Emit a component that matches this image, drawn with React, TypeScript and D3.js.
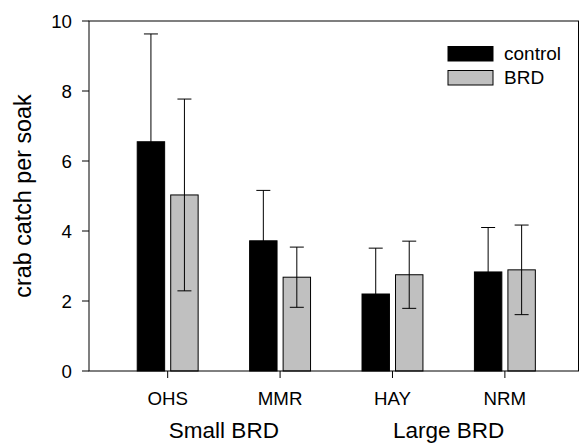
import React from "react";
import * as d3 from "d3";

const categories = ["OHS", "MMR", "HAY", "NRM"];
const controlValues = [6.55, 3.72, 2.2, 2.83];
const controlErrors = [3.08, 1.44, 1.31, 1.27];
const brdValues = [5.03, 2.68, 2.75, 2.89];
const brdErrors = [2.74, 0.86, 0.96, 1.28];
const yTicks = [0, 2, 4, 6, 8, 10];
const groupLabels = ["Small BRD", "Large BRD"];
const seriesNames = ["control", "BRD"];
const seriesColors = ["#000000", "#c0c0c0"];

const W = 584;
const H = 443;
const left = 89;
const right = 578.5;
const top = 21;
const bottom = 371;
const font = "Arial, 'Liberation Sans', sans-serif";

export default function App() {
  const x = d3.scaleLinear().domain([0.3, 4.655]).range([left, right]);
  const y = d3.scaleLinear().domain([0, 10]).range([bottom, top]);
  const barW = x(0.244) - x(0);
  const gap = x(0.054) - x(0);
  const cap = 7;

  const series = [
    { values: controlValues, errors: controlErrors, color: seriesColors[0], offset: -gap / 2 - barW },
    { values: brdValues, errors: brdErrors, color: seriesColors[1], offset: gap / 2 },
  ];

  return (
    <svg width={W} height={H} style={{ position: "absolute", left: 0, top: 0 }} fontFamily={font}>
      <rect x={0} y={0} width={W} height={H} fill="#fff" />
      {series.map((s, si) =>
        categories.map((c, i) => {
          const cx = x(i + 1) + s.offset;
          const v = s.values[i];
          const e = s.errors[i];
          const mid = cx + barW / 2;
          return (
            <g key={`${si}-${c}`}>
              <rect x={cx} y={y(v)} width={barW} height={y(0) - y(v)} fill={s.color} stroke="#000" strokeWidth={1} />
              <line x1={mid} x2={mid} y1={y(v + e)} y2={y(v - e)} stroke="#000" strokeWidth={1} />
              <line x1={mid - cap} x2={mid + cap} y1={y(v + e)} y2={y(v + e)} stroke="#000" strokeWidth={1} />
              <line x1={mid - cap} x2={mid + cap} y1={y(v - e)} y2={y(v - e)} stroke="#000" strokeWidth={1} />
            </g>
          );
        })
      )}
      <rect x={left} y={top} width={right - left} height={bottom - top} fill="none" stroke="#000" strokeWidth={1} />
      {yTicks.map((t) => (
        <g key={t}>
          <line x1={left - 7} x2={left} y1={y(t)} y2={y(t)} stroke="#000" strokeWidth={1} />
          <text x={72} y={y(t)} dy="0.36em" textAnchor="end" fontSize={18.7}>
            {t}
          </text>
        </g>
      ))}
      <text
        transform={`translate(31,${(top + bottom) / 2}) rotate(-90)`}
        textAnchor="middle"
        fontSize={23.3}
      >
        crab catch per soak
      </text>
      {categories.map((c, i) => (
        <g key={c}>
          <line x1={x(i + 1)} x2={x(i + 1)} y1={bottom} y2={bottom + 7} stroke="#000" strokeWidth={1} />
          <text x={x(i + 1)} y={405} textAnchor="middle" fontSize={18.7}>
            {c}
          </text>
        </g>
      ))}
      {groupLabels.map((g, gi) => (
        <text key={g} x={(x(gi * 2 + 1) + x(gi * 2 + 2)) / 2} y={438} textAnchor="middle" fontSize={22.5}>
          {g}
        </text>
      ))}
      {seriesNames.map((n, i) => (
        <g key={n}>
          <rect x={448} y={46.5 + i * 24} width={45} height={14.5} fill={seriesColors[i]} stroke="#000" strokeWidth={1} />
          <text x={504} y={60 + i * 24} fontSize={19}>
            {n}
          </text>
        </g>
      ))}
    </svg>
  );
}
